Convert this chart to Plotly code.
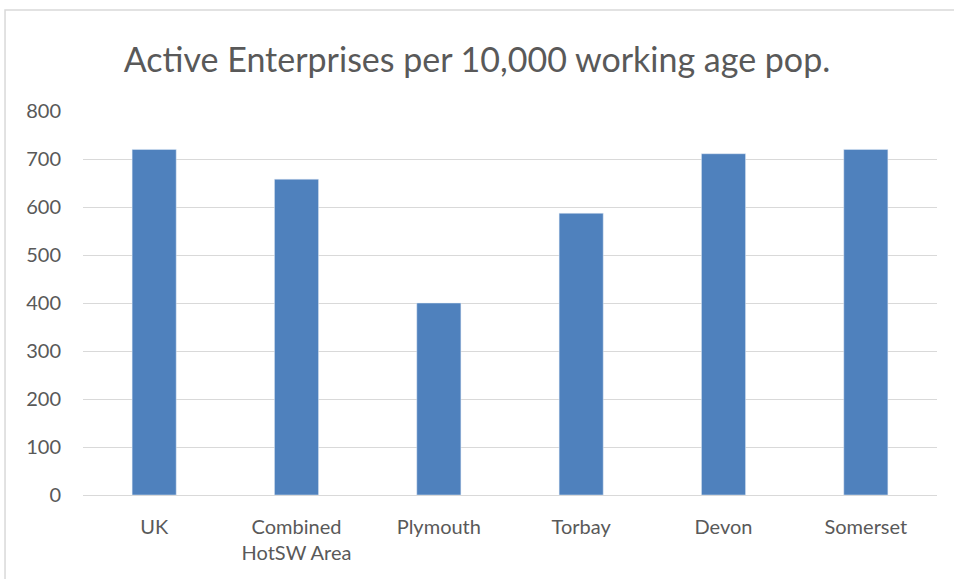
import plotly.graph_objects as go

categories = ["UK", "Combined<br>HotSW Area", "Plymouth", "Torbay", "Devon", "Somerset"]
values = [720, 658, 400, 587, 711, 720]
y_ticks = [0, 100, 200, 300, 400, 500, 600, 700, 800]

fig = go.Figure(go.Bar(x=categories, y=values, marker_color="#4F81BD", width=0.31))

fig.update_layout(
    width=954, height=579,
    margin=dict(l=83, r=17, t=111, b=84),
    paper_bgcolor="white", plot_bgcolor="white",
    title=dict(text="Active Enterprises per 10,000 working age pop.", x=0.5, xanchor="center",
               y=1 - 60 / 579, yanchor="middle",
               font=dict(family="Lato", size=34, color="#595959")),
    font=dict(family="Lato", size=20, color="#595959"),
    showlegend=False,
    shapes=[dict(type="rect", xref="paper", yref="paper", x0=-0.0913, x1=1.2, y0=-0.4, y1=1.263,
                 line=dict(color="#D9D9D9", width=1.5), fillcolor="rgba(0,0,0,0)", layer="below")],
)
fig.update_yaxes(range=[0, 800], tickvals=y_ticks, showgrid=True, gridcolor="#D9D9D9", gridwidth=1,
                 zeroline=False, showline=False, ticks="", ticklabelstandoff=21)
fig.update_xaxes(showline=True, linecolor="#D9D9D9", linewidth=1, ticks="", showgrid=False,
                 ticklabelstandoff=14)

fig.write_html("out.html", post_script="document.body.style.margin='0';",
               config={"displayModeBar": False})
